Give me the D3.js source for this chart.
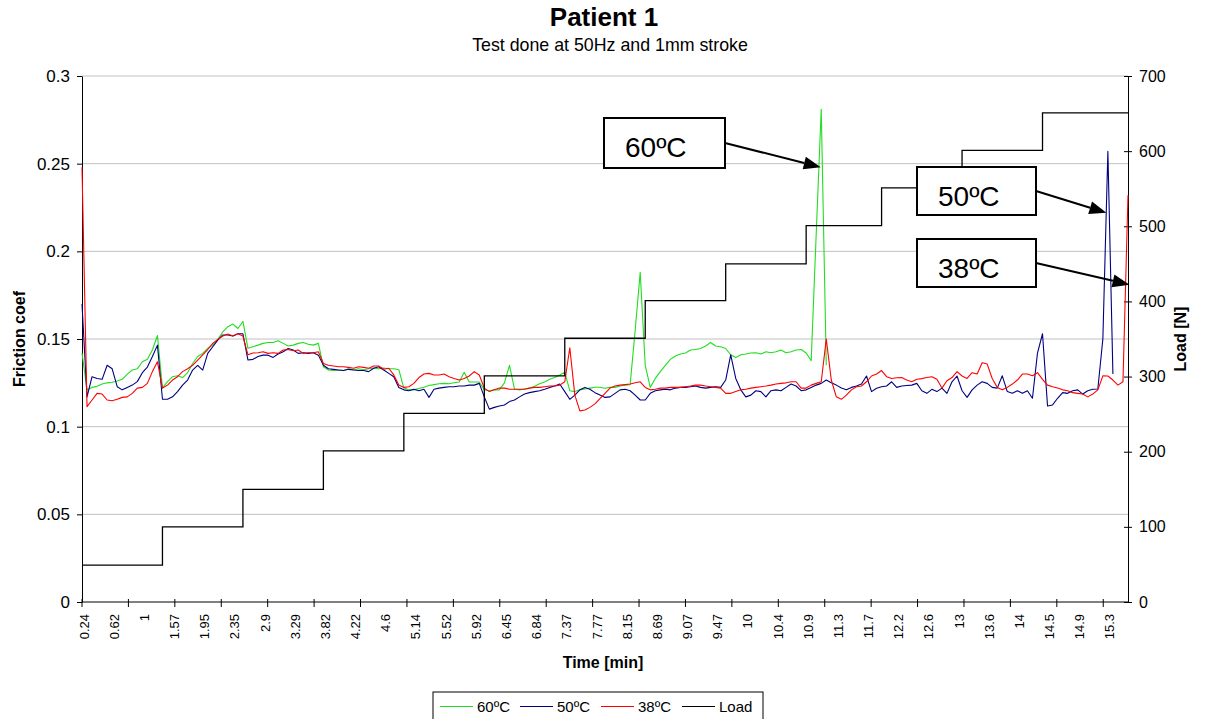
<!DOCTYPE html>
<html>
<head>
<meta charset="utf-8">
<script src="https://cdn.jsdelivr.net/npm/d3@7"></script>
<style>
  body { margin: 0; background: #fff; }
  svg text { font-family: Arial, "Liberation Sans", sans-serif; fill: #000; }
</style>
</head>
<body>
<svg id="chart" width="1205" height="719"></svg>
<script>
// labels shown on the category axis, one every 6 samples
const timeLabels = ["0.24","0.62","1","1.57","1.95","2.35","2.9","3.29","3.82","4.22","4.6","5.14",
  "5.52","5.92","6.45","6.84","7.37","7.77","8.15","8.69","9.07","9.47","10","10.4","10.9","11.3",
  "11.7","12.2","12.6","13","13.6","14","14.5","14.9","15.3"];

// friction coefficient, one value per sample
const friction60 = [
  0.142,0.121,0.1224,0.123,0.1243,0.125,0.1253,0.126,0.127,0.130,
  0.1323,0.133,0.137,0.1384,0.1437,0.152,0.122,0.1257,0.1285,0.129,
  0.128,0.1308,0.136,0.140,0.1418,0.1447,0.1465,0.1498,0.154,0.157,
  0.1585,0.156,0.160,0.1447,0.1456,0.1465,0.1475,0.148,0.148,0.149,
  0.1475,0.146,0.1465,0.1475,0.148,0.147,0.1465,0.1475,0.1342,0.1323,
  0.132,0.1323,0.132,0.133,0.1325,0.133,0.1325,0.133,0.1335,0.133,
  0.1335,0.133,0.133,0.1325,0.122,0.121,0.121,0.1218,0.1225,0.1235,
  0.124,0.1245,0.1247,0.1245,0.125,0.1255,0.131,0.1255,0.1255,0.1255,
  0.121,0.1205,0.121,0.121,0.125,0.135,0.1215,0.121,0.1215,0.122,
  0.123,0.1245,0.1255,0.127,0.128,0.1295,0.131,0.1205,0.12,0.121,
  0.1215,0.122,0.1225,0.1225,0.1219,0.1224,0.1224,0.1232,0.1237,0.124,
  0.155,0.188,0.135,0.1224,0.1275,0.1314,0.135,0.1384,0.1403,0.1414,
  0.142,0.1437,0.144,0.1446,0.146,0.148,0.146,0.1456,0.1446,0.141,
  0.1395,0.141,0.1414,0.142,0.1422,0.1414,0.1427,0.1422,0.1427,0.1437,
  0.1422,0.1427,0.1437,0.144,0.142,0.1376,0.21,0.281,0.135];

const friction50 = [
  0.17,0.117,0.1285,0.1275,0.127,0.135,0.133,0.1228,0.121,0.1224,
  0.1237,0.1257,0.1308,0.134,0.140,0.1465,0.1156,0.1156,0.117,0.120,
  0.1237,0.1266,0.1323,0.135,0.1323,0.1418,0.1456,0.1494,0.1523,0.1523,
  0.1517,0.153,0.153,0.138,0.1384,0.140,0.1408,0.1408,0.1395,0.1414,
  0.1427,0.1446,0.1437,0.1418,0.1422,0.1418,0.1422,0.1408,0.135,0.133,
  0.1327,0.1323,0.132,0.1327,0.1323,0.132,0.132,0.1314,0.1333,0.1342,
  0.1323,0.1304,0.1285,0.1224,0.121,0.1205,0.1213,0.1205,0.1213,0.1167,
  0.1213,0.122,0.1224,0.1228,0.1228,0.1232,0.1232,0.1237,0.1237,0.1247,
  0.117,0.110,0.111,0.1118,0.1124,0.1143,0.1152,0.117,0.1186,0.1194,
  0.120,0.1205,0.1213,0.1224,0.1232,0.1243,0.120,0.1156,0.118,0.121,
  0.1224,0.1213,0.1194,0.118,0.1167,0.117,0.119,0.121,0.1213,0.1205,
  0.118,0.1152,0.1152,0.119,0.1205,0.121,0.1213,0.121,0.122,0.1224,
  0.1224,0.1228,0.1232,0.1224,0.122,0.1224,0.1228,0.1224,0.1266,0.141,
  0.1275,0.121,0.117,0.118,0.1205,0.120,0.117,0.1205,0.121,0.1205,
  0.1224,0.1243,0.1232,0.1205,0.121,0.1224,0.1237,0.1247,0.1266,0.125,
  0.1237,0.122,0.121,0.1224,0.1232,0.1243,0.1289,0.120,0.1219,0.1228,
  0.1232,0.1256,0.1224,0.1232,0.1235,0.1237,0.1247,0.1205,0.119,0.1213,
  0.120,0.122,0.119,0.1256,0.1289,0.1205,0.1167,0.121,0.1237,0.1256,
  0.1247,0.1224,0.122,0.129,0.120,0.119,0.1205,0.119,0.1205,0.1162,
  0.142,0.153,0.1118,0.1124,0.1162,0.1194,0.119,0.1205,0.121,0.1186,
  0.1205,0.1213,0.1215,0.15,0.257,0.13];

const friction38 = [
  0.248,0.1114,0.1152,0.119,0.1186,0.1152,0.1148,0.1156,0.1167,0.117,
  0.119,0.122,0.1224,0.1247,0.1314,0.137,0.122,0.1237,0.1266,0.1285,
  0.1314,0.133,0.135,0.138,0.141,0.144,0.1475,0.1498,0.1517,0.1528,
  0.1517,0.153,0.1517,0.141,0.142,0.1422,0.1427,0.1418,0.1422,0.1418,
  0.1437,0.144,0.1433,0.1437,0.1418,0.1422,0.1422,0.1427,0.136,0.135,
  0.1346,0.1342,0.1342,0.1338,0.1333,0.1342,0.1338,0.1333,0.1346,0.1346,
  0.1327,0.1333,0.1295,0.1237,0.1224,0.1228,0.1247,0.128,0.130,0.1304,
  0.1295,0.1295,0.130,0.1285,0.1275,0.1266,0.1275,0.1289,0.1314,0.1295,
  0.122,0.120,0.121,0.122,0.122,0.1213,0.1213,0.1213,0.1213,0.122,
  0.1224,0.1224,0.1228,0.1232,0.1232,0.1237,0.1256,0.145,0.118,0.109,
  0.1095,0.111,0.113,0.116,0.119,0.122,0.1232,0.1237,0.124,0.1243,
  0.125,0.1256,0.1224,0.121,0.1213,0.122,0.122,0.1224,0.1224,0.1224,
  0.1228,0.1232,0.1237,0.1237,0.1232,0.1228,0.1224,0.122,0.119,0.119,
  0.120,0.121,0.1213,0.122,0.1224,0.1228,0.1232,0.1237,0.1243,0.1247,
  0.125,0.1256,0.1256,0.122,0.122,0.1237,0.1247,0.1256,0.150,0.1266,
  0.117,0.1156,0.118,0.121,0.1228,0.1232,0.1256,0.1289,0.130,0.132,
  0.1285,0.1275,0.1279,0.128,0.1266,0.1256,0.127,0.1274,0.128,0.1285,
  0.127,0.122,0.1262,0.128,0.1314,0.1289,0.1275,0.1308,0.130,0.1365,
  0.1357,0.1275,0.1224,0.121,0.1224,0.1243,0.1266,0.130,0.130,0.129,
  0.1308,0.127,0.1237,0.1228,0.122,0.121,0.1205,0.1194,0.119,0.1186,
  0.117,0.1186,0.121,0.129,0.1289,0.1266,0.1237,0.1256,0.232];

// load [N]: sample where each level starts, and the level
const loadStart = [0, 16, 32, 48, 64, 80, 96, 112, 128, 144, 159, 175, 191];
const loadLevel = [49, 100, 150, 201, 251, 301, 351, 401, 450, 501, 551, 601, 651];

const frictionTicks = [0, 0.05, 0.1, 0.15, 0.2, 0.25, 0.3];
const loadTicks = [0, 100, 200, 300, 400, 500, 600, 700];

const seriesNames = ["60ºC", "50ºC", "38ºC", "Load"];
const seriesColors = ["#22dd22", "#000080", "#ff0000", "#000000"];

const svg = d3.select("#chart");
const plotLeft = 82, plotRight = 1128, plotTop = 76, plotBottom = 602;
const N = friction38.length;

const x = d3.scaleLinear().domain([0, N - 1]).range([plotLeft, plotRight]);
const yF = d3.scaleLinear().domain([0, 0.3]).range([plotBottom, plotTop]);
const yL = d3.scaleLinear().domain([0, 700]).range([plotBottom, plotTop]);

// gridlines
svg.append("g").selectAll("line")
  .data(frictionTicks.filter(d => d > 0))
  .join("line")
  .attr("x1", plotLeft).attr("x2", plotRight)
  .attr("y1", d => yF(d)).attr("y2", d => yF(d))
  .attr("stroke", "#c0c0c0");

// left axis
const axL = svg.append("g")
  .attr("transform", `translate(${plotLeft},0)`)
  .call(d3.axisLeft(yF).tickValues(frictionTicks).tickFormat(d3.format("~g"))
    .tickSize(5).tickSizeOuter(0).tickPadding(7));
axL.selectAll("text").attr("font-size", 17).attr("font-family", "Arial, 'Liberation Sans', sans-serif");
axL.selectAll("line, path").attr("stroke", "#000");

// right axis
const axR = svg.append("g")
  .attr("transform", `translate(${plotRight},0)`)
  .call(d3.axisRight(yL).tickValues(loadTicks).tickSize(4).tickSizeOuter(0).tickPadding(7));
axR.selectAll(".tick line").attr("x1", -4);
axR.selectAll("text").attr("font-size", 16).attr("font-family", "Arial, 'Liberation Sans', sans-serif");
axR.selectAll("line, path").attr("stroke", "#000");

// bottom category axis
const gx = svg.append("g");
gx.append("line").attr("x1", plotLeft).attr("x2", plotRight).attr("y1", plotBottom).attr("y2", plotBottom)
  .attr("stroke", "#000");
const tickStep = 6 * 20 / 13;
gx.selectAll("line.tk")
  .data(d3.range(0, N, tickStep))
  .join("line").attr("class", "tk")
  .attr("x1", d => x(d)).attr("x2", d => x(d))
  .attr("y1", plotBottom - 3).attr("y2", plotBottom + 5)
  .attr("stroke", "#000");
gx.selectAll("text")
  .data(timeLabels)
  .join("text")
  .attr("transform", (d, i) => `translate(${x(i * 6) + 2},${plotBottom + 12}) rotate(-90)`)
  .attr("text-anchor", "end")
  .attr("dy", "0.35em")
  .attr("font-size", 13)
  .text(d => d);

// lines
const fLine = d3.line()
  .defined(d => d != null)
  .x((d, i) => x(i))
  .y(d => yF(d));

const plot = svg.append("g");
[friction60, friction50, friction38].forEach((s, k) => {
  plot.append("path")
    .datum(s)
    .attr("fill", "none")
    .attr("stroke", seriesColors[k])
    .attr("stroke-width", 1.1)
    .attr("stroke-linejoin", "round")
    .attr("d", fLine);
});

const loadPts = loadStart.map((s, k) => [s, loadLevel[k]]);
loadPts.push([N - 1, loadLevel[loadLevel.length - 1]]);
plot.append("path")
  .datum(loadPts)
  .attr("fill", "none")
  .attr("stroke", seriesColors[3])
  .attr("stroke-width", 1.3)
  .attr("d", d3.line().curve(d3.curveStepAfter).x(d => x(d[0])).y(d => yL(d[1])));

// titles
svg.append("text").attr("x", 604).attr("y", 26).attr("text-anchor", "middle")
  .attr("font-size", 26).attr("font-weight", "bold").text("Patient 1");
svg.append("text").attr("x", 610).attr("y", 51).attr("text-anchor", "middle")
  .attr("font-size", 17.8).text("Test done at 50Hz and 1mm stroke");
svg.append("text").attr("x", 603).attr("y", 668).attr("text-anchor", "middle")
  .attr("font-size", 16).attr("font-weight", "bold").text("Time [min]");
svg.append("text").attr("transform", "translate(25,339) rotate(-90)").attr("text-anchor", "middle")
  .attr("font-size", 16).attr("font-weight", "bold").text("Friction coef");
svg.append("text").attr("transform", "translate(1186,339) rotate(-90)").attr("text-anchor", "middle")
  .attr("font-size", 16).attr("font-weight", "bold").text("Load [N]");

// callouts
const callouts = [
  { text: "60ºC", box: [604, 118, 121, 50], idx: 146.9, val: 0.248 },
  { text: "50ºC", box: [917, 167, 119, 48], idx: 203.7, val: 0.222 },
  { text: "38ºC", box: [917, 239, 119, 48], idx: 208.3, val: 0.181 }
];
callouts.forEach(c => {
  const [bx, by, bw, bh] = c.box;
  const g = svg.append("g");
  g.append("rect").attr("x", bx).attr("y", by).attr("width", bw).attr("height", bh)
    .attr("fill", "#fff").attr("stroke", "#000").attr("stroke-width", 2);
  g.append("text").attr("x", bx + 21).attr("y", by + 39).attr("font-size", 28).text(c.text);
  const x0 = bx + bw, y0 = by + bh / 2;
  const x1 = x(c.idx), y1 = yF(c.val);
  const a = Math.atan2(y1 - y0, x1 - x0);
  const L = 17, hw = 6.5;
  const bxp = x1 - L * Math.cos(a), byp = y1 - L * Math.sin(a);
  g.append("line").attr("x1", x0).attr("y1", y0).attr("x2", bxp).attr("y2", byp)
    .attr("stroke", "#000").attr("stroke-width", 2);
  g.append("path")
    .attr("d", `M${x1},${y1}L${bxp + hw * Math.sin(a)},${byp - hw * Math.cos(a)}L${bxp - hw * Math.sin(a)},${byp + hw * Math.cos(a)}Z`)
    .attr("fill", "#000");
});

// legend
const lg = svg.append("g");
lg.append("rect").attr("x", 433).attr("y", 692).attr("width", 330).attr("height", 40)
  .attr("fill", "#fff").attr("stroke", "#000");
const legX = [440, 520, 601, 682];
seriesNames.forEach((name, k) => {
  lg.append("line").attr("x1", legX[k]).attr("x2", legX[k] + 33)
    .attr("y1", 706.5).attr("y2", 706.5).attr("stroke", seriesColors[k]).attr("stroke-width", 1.2);
  lg.append("text").attr("x", legX[k] + 37).attr("y", 712).attr("font-size", 15).text(name);
});
</script>
</body>
</html>
